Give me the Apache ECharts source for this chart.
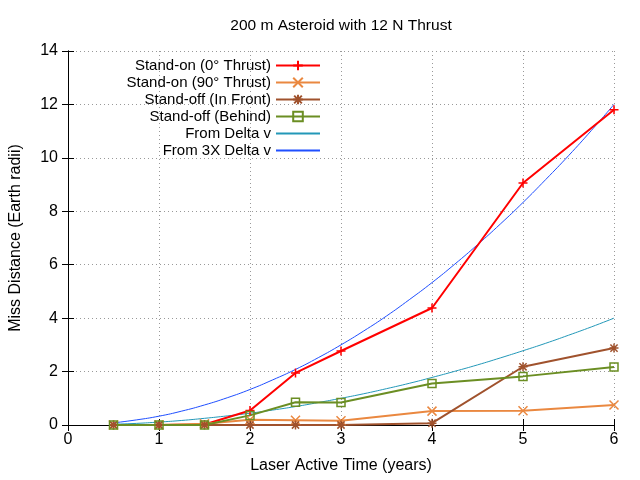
<!DOCTYPE html>
<html><head><meta charset="utf-8">
<script src="https://cdn.jsdelivr.net/npm/echarts@6/dist/echarts.min.js"></script>
<style>html,body{margin:0;padding:0;background:#fff}#c{width:640px;height:480px}</style>
</head><body><div id="c"></div>
<script>
var title = '200 m Asteroid with 12 N Thrust';
var xName = 'Laser Active Time (years)';
var yName = 'Miss Distance (Earth radii)';
var seriesNames = ['Stand-on (0° Thrust)','Stand-on (90° Thrust)','Stand-off (In Front)','Stand-off (Behind)','From Delta v','From 3X Delta v'];
var times = [0.5, 1, 1.5, 2, 2.5, 3, 4, 5, 6];
var standOn0 = [0, 0, 0.02, 0.54, 1.95, 2.77, 4.38, 9.06, 11.8];
var standOn90 = [0, 0, 0.05, 0.2, 0.18, 0.16, 0.52, 0.53, 0.75];
var standOffFront = [0, 0, 0, 0, 0, 0, 0.07, 2.18, 2.88];
var standOffBehind = [0, 0, 0, 0.36, 0.85, 0.84, 1.55, 1.82, 2.17];
var curveT = [0.5, 0.75, 1, 1.25, 1.5, 1.75, 2, 2.25, 2.5, 2.75, 3, 3.25, 3.5, 3.75, 4, 4.25, 4.5, 4.75, 5, 5.25, 5.5, 5.75, 6];
var deltaV = [0.03, 0.06, 0.11, 0.17, 0.25, 0.34, 0.44, 0.56, 0.69, 0.84, 1.0, 1.17, 1.36, 1.56, 1.78, 2.01, 2.25, 2.51, 2.78, 3.06, 3.36, 3.67, 4.0];
var deltaV3 = [0.08, 0.19, 0.33, 0.52, 0.75, 1.02, 1.33, 1.69, 2.08, 2.52, 3.0, 3.52, 4.08, 4.69, 5.33, 6.02, 6.75, 7.52, 8.33, 9.19, 10.08, 11.02, 12.0];
var xTicks = [0, 1, 2, 3, 4, 5, 6];
var yTicks = [0, 2, 4, 6, 8, 10, 12, 14];

function pair(xs, ys){ return xs.map(function(x,i){return [x, ys[i]];}); }
var FONT = 'Liberation Sans';
var plusPath = 'path://M0,5L10,5M5,0L5,10';
var crossPath = 'path://M0,0L10,10M0,10L10,0';
var starPath = 'path://M0,5L10,5M5,0L5,10M1,1L9,9M1,9L9,1';
var sqPath = 'path://M0,0L10,0L10,10L0,10Z';

function markSeries(name, data, color, sym, size){
  return {name:name, type:'line', data:data,
    symbol:sym, symbolSize:size, showAllSymbol:true,
    lineStyle:{color:color, width:2},
    itemStyle:{color: sym===sqPath ? 'rgba(0,0,0,0)' : color, borderColor:color, borderWidth:1.5},
    color: color, z:3};
}
function curveSeries(name, data, color){
  return {name:name, type:'line', data:data, smooth:true, symbol:'none',
    lineStyle:{color:color, width:1}, itemStyle:{color:color}, color:color, z:2};
}
var gridLine = {show:true, lineStyle:{color:'#999', type:[1,3], width:1}};
var axisLine = {show:true, lineStyle:{color:'#000', width:1}};
var tick = {show:true, inside:true, length:6, lineStyle:{color:'#000'}};
var chart = echarts.init(document.getElementById('c'));
chart.setOption({
  animation:false,
  backgroundColor:'#fff',
  title:{text:title, left:336, top:13, textAlign:'center', textStyle:{fontFamily:FONT, fontSize:15.5, fontWeight:'normal', color:'#000'}},
  legend:{orient:'vertical', align:'right', right:314, top:53, itemWidth:44, itemHeight:12, itemGap:2,
    textStyle:{fontFamily:FONT, fontSize:15, color:'#000'},
    data:[
      {name:seriesNames[0]},{name:seriesNames[1]},{name:seriesNames[2]},{name:seriesNames[3]},
      {name:seriesNames[4], itemStyle:{opacity:0}},{name:seriesNames[5], itemStyle:{opacity:0}}
    ]},
  grid:{left:68, right:26, top:51, bottom:55},
  xAxis:[{type:'value', min:0, max:6, interval:1, name:xName, nameLocation:'middle', nameGap:33,
    nameTextStyle:{fontFamily:FONT, fontSize:16, color:'#000'},
    axisLine:axisLine, axisTick:tick, splitLine:gridLine,
    axisLabel:{fontFamily:FONT, fontSize:16, color:'#000', margin:7}},
   {type:'value', position:'top', min:0, max:6, interval:1, axisLine:axisLine, axisTick:tick, axisLabel:{show:false}, splitLine:{show:false}}],
  yAxis:[{type:'value', min:0, max:14, interval:2, name:yName, nameLocation:'middle', nameGap:44,
    nameTextStyle:{fontFamily:FONT, fontSize:16, color:'#000'},
    axisLine:axisLine, axisTick:tick, splitLine:gridLine,
    axisLabel:{fontFamily:FONT, fontSize:16, color:'#000', margin:10}},
   {type:'value', position:'right', min:0, max:14, interval:2, axisLine:axisLine, axisTick:tick, axisLabel:{show:false}, splitLine:{show:false}}],
  series:[
    markSeries(seriesNames[0], pair(times, standOn0), '#ff0000', plusPath, 9),
    markSeries(seriesNames[1], pair(times, standOn90), '#ea8840', crossPath, 9),
    markSeries(seriesNames[2], pair(times, standOffFront), '#a0522d', starPath, 9),
    markSeries(seriesNames[3], pair(times, standOffBehind), '#6b8e23', sqPath, 8),
    curveSeries(seriesNames[4], pair(curveT, deltaV), '#2398b8'),
    curveSeries(seriesNames[5], pair(curveT, deltaV3), '#1f4fff')
  ]
});
</script></body></html>
